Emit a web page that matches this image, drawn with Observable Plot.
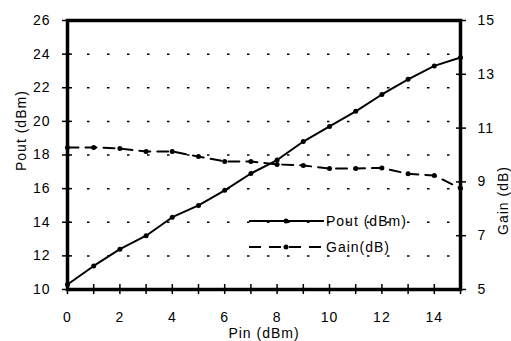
<!DOCTYPE html>
<html><head><meta charset="utf-8">
<script src="https://cdn.jsdelivr.net/npm/d3@7"></script>
<script src="https://cdn.jsdelivr.net/npm/@observablehq/plot@0.6"></script>
<style>
body{margin:0;background:#fff;}
#wrap{position:relative;width:511px;height:341px;font-family:"Liberation Sans",Arial,sans-serif;color:#000;}
#legend{position:absolute;left:249px;top:208px;font-size:14px;line-height:26px;letter-spacing:1px;}
#legend div{display:flex;align-items:center;height:26px;}
#legend svg{margin-right:1px;}
</style></head><body><div id="wrap"><div id="legend"></div></div>
<script>
const pin = [0,1,2,3,4,5,6,7,8,9,10,11,12,13,14,15];
const pout = [10.3,11.4,12.4,13.2,14.3,15.0,15.9,16.9,17.7,18.8,19.7,20.6,21.6,22.5,23.3,23.8];
const gain = [10.28,10.28,10.24,10.13,10.13,9.94,9.76,9.76,9.65,9.61,9.5,9.5,9.52,9.3,9.24,8.76];
const leftTicks = [10,12,14,16,18,20,22,24,26];
const rightTicks = [5,7,9,11,13,15];
const xLabels = [0,2,4,6,8,10,12,14];
const xMinor = [0,1,2,3,4,5,6,7,8,9,10,11,12,13,14,15];
const gridVals = [12,14,16,18,20,22,24];
const seriesNames = ["Pout (dBm)","Gain(dB)"];
const xTitle = "Pin (dBm)";
const yLeftTitle = "Pout (dBm)";
const yRightTitle = "Gain (dB)";

// map right axis (Gain) onto left axis (Pout) units
const toL = g => 10 + (g - 5) * 1.6;
const fromL = v => Math.round(5 + (v - 10) / 1.6);

const poutData = pin.map((p, i) => ({pin: p, v: pout[i]}));
const gainData = pin.map((p, i) => ({pin: p, v: toL(gain[i])}));

const chart = Plot.plot({
  width: 511, height: 341,
  marginLeft: 67, marginRight: 51, marginTop: 20, marginBottom: 52,
  x: {domain: [0, 15]},
  y: {domain: [10, 26]},
  style: {fontFamily: "Liberation Sans, Arial, sans-serif", fontSize: "14px", letterSpacing: "1px", color: "#000", background: "#fff"},
  marks: [
    Plot.ruleY(gridVals, {stroke: "#000", strokeWidth: 1.5, strokeDasharray: "2.5,17.5", strokeDashoffset: -20}),
    Plot.axisX(xMinor, {tickSize: 10, dy: -5, fill: "none", label: null, strokeWidth: 1.5}),
    Plot.axisX(xLabels, {tickSize: 0, tickPadding: 23, label: xTitle, labelAnchor: "center", labelOffset: 48, labelArrow: "none"}),
    Plot.axisY(leftTicks, {tickSize: 10, dx: 5, fill: "none", label: null, strokeWidth: 1.5}),
    Plot.axisY(leftTicks, {tickSize: 0, tickPadding: 17, label: null}),
    Plot.axisY(rightTicks.map(toL), {anchor: "right", tickSize: 10, dx: -5, fill: "none", label: null, strokeWidth: 1.5}),
    Plot.axisY(rightTicks.map(toL), {anchor: "right", tickSize: 0, tickPadding: 17, tickFormat: fromL, label: null}),
    Plot.text([yLeftTitle], {text: d => d, frameAnchor: "left", rotate: -90, dx: -46, dy: 16, fill: "#000"}),
    Plot.text([yRightTitle], {text: d => d, frameAnchor: "right", rotate: -90, dx: 43, dy: 11, fill: "#000"}),
    Plot.line(poutData, {x: "pin", y: "v", stroke: "#000", strokeWidth: 2}),
    Plot.dot(poutData, {x: "pin", y: "v", r: 2.5, fill: "#000"}),
    Plot.line(gainData, {x: "pin", y: "v", stroke: "#000", strokeWidth: 2, strokeDasharray: "11,7"}),
    Plot.dot(gainData, {x: "pin", y: "v", r: 2.5, fill: "#000"}),
    Plot.frame({stroke: "#000", strokeWidth: 3.5})
  ]
});
document.getElementById("wrap").prepend(chart);

const legend = document.getElementById("legend");
seriesNames.forEach((name, i) => {
  const row = document.createElement("div");
  const dash = i === 0 ? "" : 'stroke-dasharray="12,8"';
  row.innerHTML = `<svg width="76" height="8"><line x1="0" x2="75" y1="4" y2="4" stroke="#000" stroke-width="2" ${dash}/><circle cx="37" cy="4" r="2.5" fill="#000"/></svg><span>${name}</span>`;
  legend.appendChild(row);
});
</script>
</body></html>
